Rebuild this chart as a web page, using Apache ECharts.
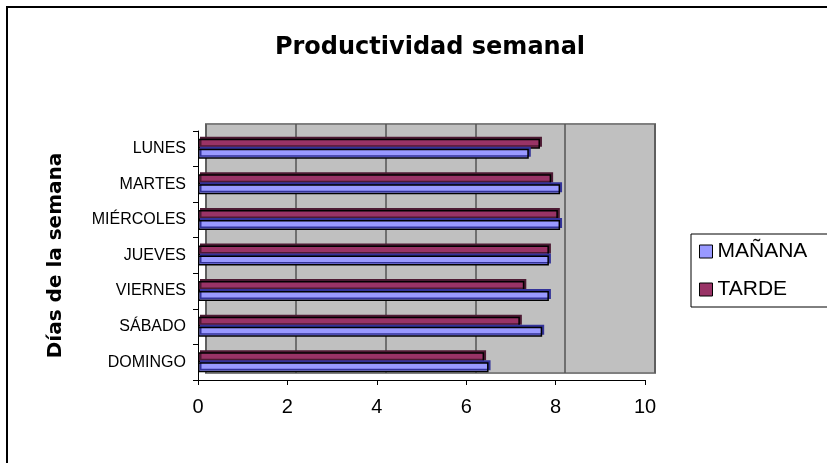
<!DOCTYPE html>
<html>
<head>
<meta charset="utf-8">
<script src="https://cdn.jsdelivr.net/npm/echarts@6/dist/echarts.min.js"></script>
<style>
  html, body { margin: 0; padding: 0; background: #fff; }
  #main { width: 827px; height: 463px; }
</style>
</head>
<body>
<div id="main"></div>
<script>
// dias (de abajo hacia arriba, como en el eje)
var dias = ['DOMINGO', 'SÁBADO', 'VIERNES', 'JUEVES', 'MIÉRCOLES', 'MARTES', 'LUNES'];
var manana = [6.5, 7.7, 7.85, 7.85, 8.1, 8.1, 7.4];
var tarde = [6.4, 7.2, 7.3, 7.85, 8.05, 7.9, 7.65];
var ticksX = [0, 2, 4, 6, 8, 10];

var myChart = echarts.init(document.getElementById('main'));

var option = {
    animation: false,
    textStyle: { fontFamily: 'Liberation Sans, Arial, sans-serif' },
    graphic: [{
        // marco exterior
        type: 'rect',
        shape: { x: 7, y: 7, width: 840, height: 480 },
        style: { fill: 'none', stroke: '#000', lineWidth: 2 }
    }],
    title: {
        text: 'Productividad semanal',
        left: 425,
        top: 31,
        textAlign: 'center',
        textStyle: { fontSize: 24, fontWeight: 'bold', color: '#000', fontFamily: 'DejaVu Sans' }
    },
    legend: {
        data: ['MAÑANA', 'TARDE'],
        orient: 'vertical',
        left: 691,
        top: 234,
        icon: 'rect',
        itemWidth: 13,
        itemHeight: 13,
        itemGap: 17,
        padding: [7, 40, 7, 8],
        borderColor: '#000',
        borderWidth: 1,
        textStyle: { fontSize: 21, color: '#000' },
        itemStyle: { borderColor: '#000', borderWidth: 1, shadowBlur: 0, shadowOffsetX: 0, shadowOffsetY: 0 }
    },
    grid: [
        // pared del fondo
        { left: 206, top: 124, width: 449, height: 249, show: true,
          backgroundColor: '#c0c0c0', borderColor: '#808080', borderWidth: 2 },
        // frente
        { left: 198, top: 131, width: 447, height: 249, show: false }
    ],
    xAxis: [
        { gridIndex: 0, type: 'value', min: 0, max: 10, interval: 2,
          axisLine: { show: false }, axisTick: { show: false }, axisLabel: { show: false },
          splitLine: { show: true, lineStyle: { color: '#555', width: 1.5 } } },
        { gridIndex: 1, type: 'value', min: 0, max: 10, interval: 2,
          axisLine: { show: true, lineStyle: { color: '#000' } },
          axisTick: { show: true, length: 5, inside: false, lineStyle: { color: '#000' } },
          axisLabel: { fontSize: 20, color: '#000', margin: 17,
              formatter: function (v) { return ticksX.indexOf(v) >= 0 ? v : ''; } },
          splitLine: { show: false } }
    ],
    yAxis: [
        { gridIndex: 0, type: 'category', data: dias, show: false },
        { gridIndex: 1, type: 'category', data: dias,
          name: 'Días de la semana',
          nameLocation: 'middle',
          nameGap: 132,
          nameRotate: 90,
          nameTextStyle: { fontSize: 20, fontWeight: 'bold', color: '#000', fontFamily: 'DejaVu Sans' },
          axisLine: { show: true, lineStyle: { color: '#000' } },
          axisTick: { show: true, length: 5, lineStyle: { color: '#000' } },
          axisLabel: { fontSize: 16, color: '#000', margin: 12 } }
    ],
    series: [
        {
            name: 'TARDE',
            type: 'bar',
            xAxisIndex: 1,
            yAxisIndex: 1,
            data: tarde,
            barWidth: 10,
            barGap: '0%',
            itemStyle: { color: '#993366', borderColor: '#000', borderWidth: 1.5,
                shadowColor: '#4d1a33', shadowOffsetX: 2, shadowOffsetY: -2, shadowBlur: 0 }
        },
        {
            name: 'MAÑANA',
            type: 'bar',
            xAxisIndex: 1,
            yAxisIndex: 1,
            data: manana,
            barWidth: 10,
            barGap: '0%',
            itemStyle: { color: '#9999ff', borderColor: '#000', borderWidth: 1.5,
                shadowColor: '#333399', shadowOffsetX: 2, shadowOffsetY: -2, shadowBlur: 0 }
        }
    ]
};

myChart.setOption(option);
</script>
</body>
</html>
